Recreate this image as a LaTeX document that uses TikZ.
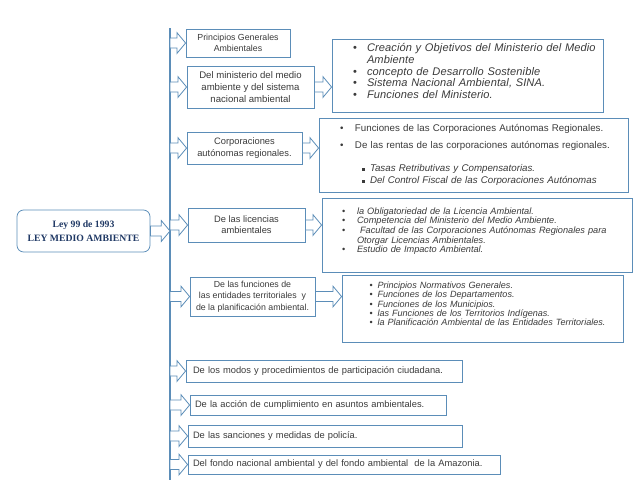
\documentclass[tikz,border=0pt]{standalone}
\usepackage{fontspec}
\setmainfont{Liberation Sans}
\newfontfamily\timesf{Liberation Serif}
\usetikzlibrary{calc}
\definecolor{bc}{HTML}{5B8DB8}
\definecolor{tc}{HTML}{3A3A3A}
\definecolor{nav}{HTML}{1F3864}
\newcommand\bul[1]{\makebox[#1][l]{\upshape\textbullet}}
\newcommand\sqb{\makebox[6pt][l]{\rule[0.6pt]{2.2pt}{2.2pt}}}
\begin{document}
\begin{tikzpicture}[x=0.75pt,y=-0.75pt,
  rect/.style n args={4}{minimum width={(#3-#1)*0.75pt}, minimum height={(#4-#2)*0.75pt},
     at={({(#1+#3)/2},{(#2+#4)/2})}},
  lbox/.style={draw=bc, line width=0.6pt, inner sep=0pt, text=tc, align=center},
  rbox/.style={draw=bc, line width=0.6pt, inner sep=0pt, text=tc, align=left},
  spine/.style={draw=bc, line width=0.8pt},
  blockarrow/.style={draw=bc, line width=0.6pt, fill=white,
    to path={let \p1=(\tikztostart), \p2=(\tikztotarget) in
      (\x1,\y1+3.75pt) -- (\x2-6.5pt,\y1+3.75pt) -- (\x2-6.5pt,\y1+7.8pt) -- (\x2,\y1)
      -- (\x2-6.5pt,\y1-7.8pt) -- (\x2-6.5pt,\y1-3.75pt) -- (\x1,\y1-3.75pt) -- cycle}}]
\useasboundingbox (0,0) rectangle (638,493);

% main node
\node[draw=bc, line width=0.6pt, rounded corners=5pt, inner sep=0pt, text=nav, align=center,
  font=\timesf\bfseries\fontsize{7.3}{10}\selectfont, rect={17}{210}{150}{252}] (main)
  {Ley 99 de 1993\\LEY MEDIO AMBIENTE};

% spine
\coordinate (stop) at (170,28);
\coordinate (sbot) at (170,480);
\draw[spine] (stop) -- (sbot);

% left boxes
\node[lbox, font=\fontsize{6.6}{8.3}\selectfont, rect={186}{29}{290}{57}] (b1)
  {Principios Generales\\Ambientales};
\node[lbox, font=\fontsize{7.2}{9}\selectfont, rect={187}{66}{314}{108}] (b2)
  {Del ministerio del medio\\ambiente y del sistema\\nacional ambiental};
\node[lbox, font=\fontsize{7}{9}\selectfont, rect={187}{132}{302}{164}] (b3)
  {Corporaciones\\autónomas regionales.};
\node[lbox, font=\fontsize{7}{8.3}\selectfont, rect={188}{208}{305}{242}] (b4)
  {De las licencias\\ambientales};
\node[lbox, font=\fontsize{6.6}{8.6}\selectfont, rect={190}{277}{315}{316}] (b5)
  {De las funciones de\\las entidades territoriales\ \ y\\de la planificación ambiental.};
\node[lbox, align=left, text width=196.5pt, font=\fontsize{7}{9}\selectfont, rect={186}{360}{462}{382}] (b6)
  {\mbox{De los modos y procedimientos de participación ciudadana.}};
\node[lbox, align=left, text width=184.5pt, font=\fontsize{7}{9}\selectfont, rect={190}{395}{446}{415}] (b7)
  {\mbox{De la acción de cumplimiento\ en asuntos ambientales.}};
\node[lbox, align=left, text width=198pt, font=\fontsize{7}{9}\selectfont, rect={188}{425}{462}{447}] (b8)
  {\mbox{De las sanciones y medidas de policía.}};
\node[lbox, align=left, text width=226.5pt, font=\fontsize{7}{9}\selectfont, rect={188}{455}{500}{474}] (b9)
  {\mbox{Del fondo nacional ambiental y del fondo ambiental\ \ de la Amazonia.}};

% right boxes
\node[rbox, text width=171.75pt, font=\itshape\fontsize{8.3}{8.7}\selectfont\addfontfeatures{LetterSpace=1.0}, rect={332}{39}{603}{112}] (r1)
  {\bul{10.5pt}\mbox{Creación y Objetivos del Ministerio del Medio}\\
   \hspace*{10.5pt}Ambiente\\
   \bul{10.5pt}\mbox{concepto de Desarrollo Sostenible}\\
   \bul{10.5pt}\mbox{Sistema Nacional Ambiental, SINA.}\\
   \bul{10.5pt}\mbox{Funciones del Ministerio.}\\[-2pt]\mbox{}};
\node[rbox, text width=200.25pt, font=\fontsize{7.3}{9}\selectfont, rect={319}{118}{628}{192}] (r2)
  {\bul{11.25pt}\mbox{Funciones de las Corporaciones Autónomas Regionales.}\\[3.75pt]
   \bul{11.25pt}\mbox{De las rentas de las corporaciones autónomas regionales.}\\[8pt]
   \hspace*{16.5pt}\sqb\mbox{\itshape Tasas Retributivas y Compensatorias.}\\
   \hspace*{16.5pt}\sqb\mbox{\itshape Del Control Fiscal de las Corporaciones Autónomas}};
\node[rbox, text width=202.5pt, font=\itshape\fontsize{6.9}{7.3}\selectfont, rect={322}{198}{632}{272}] (r3)
  {\bul{11.25pt}\mbox{la Obligatoriedad de la Licencia Ambiental.}\\
   \bul{11.25pt}\mbox{Competencia del Ministerio del Medio Ambiente.}\\
   \bul{11.25pt}\mbox{\ Facultad de las Corporaciones Autónomas Regionales para}\\
   \hspace*{11.25pt}\mbox{Otorgar Licencias Ambientales.}\\
   \bul{11.25pt}\mbox{Estudio de Impacto Ambiental.}\\\mbox{}};
\node[rbox, text width=169.5pt, font=\itshape\fontsize{6.8}{7}\selectfont, rect={342}{275}{623}{342}] (r4)
  {\bul{6pt}\mbox{Principios Normativos Generales.}\\
   \bul{6pt}\mbox{Funciones de los Departamentos.}\\
   \bul{6pt}\mbox{Funciones de los Municipios.}\\
   \bul{6pt}\mbox{las Funciones de los Territorios Indígenas.}\\
   \bul{6pt}\mbox{la Planificación Ambiental de las Entidades Territoriales.}\\\mbox{}};

% spine coordinates
\foreach \b in {b1,b2,b3,b4,b5,b6,b7,b8,b9}{
  \coordinate (s-\b) at (stop |- \b.west);
}
\coordinate (s-main) at (stop |- main.east);

% arrows
\draw[blockarrow] (main.east) to (s-main);
\foreach \b in {b1,b2,b3,b4,b5,b6,b7,b8,b9}{
  \draw[blockarrow] (s-\b) to (\b.west);
}
\draw[blockarrow] (b2.east) to (r1.west);
\draw[blockarrow] (b3.east) to (r2.west);
\draw[blockarrow] (b4.east) to (r3.west);
\draw[blockarrow] (b5.east) to (r4.west);
\end{tikzpicture}
\end{document}
